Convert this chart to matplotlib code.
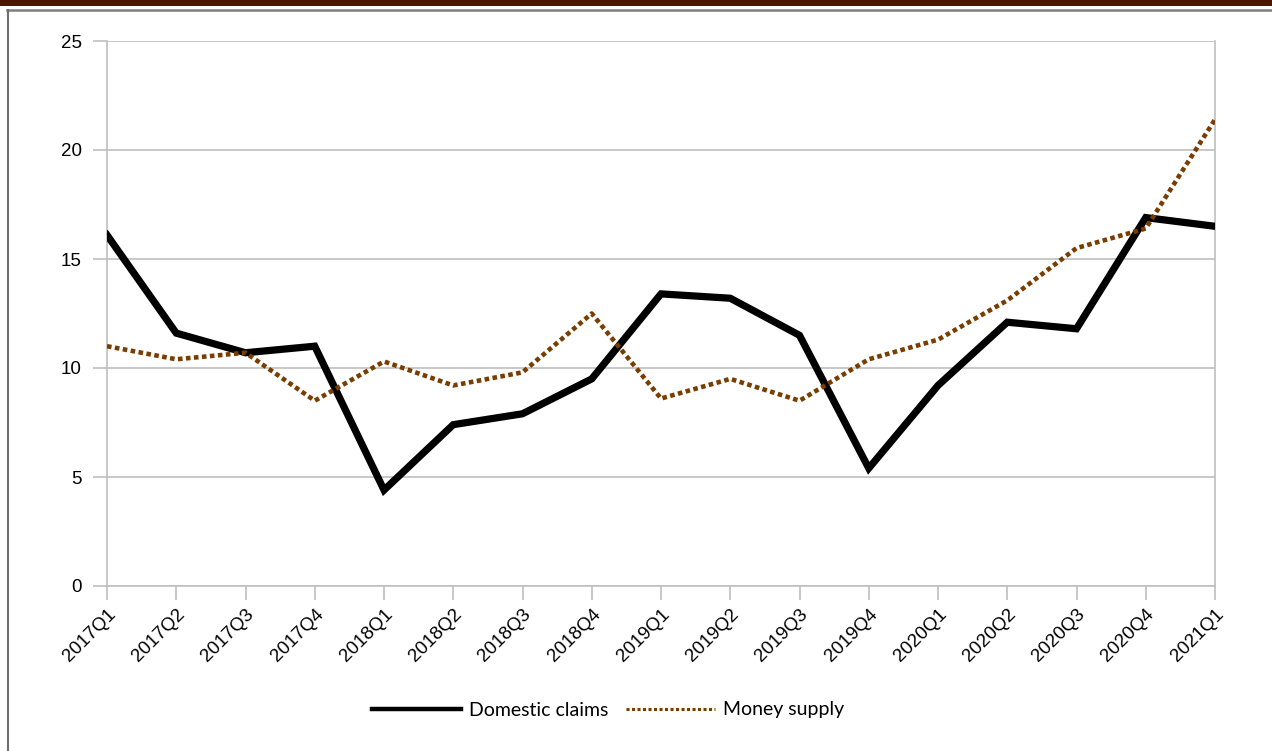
import matplotlib.pyplot as plt
import matplotlib.lines as mlines

# quarterly data, percent
quarters = ["2017Q1", "2017Q2", "2017Q3", "2017Q4",
            "2018Q1", "2018Q2", "2018Q3", "2018Q4",
            "2019Q1", "2019Q2", "2019Q3", "2019Q4",
            "2020Q1", "2020Q2", "2020Q3", "2020Q4", "2021Q1"]
domestic_claims = [16.1, 11.6, 10.7, 11.0, 4.4, 7.4, 7.9, 9.5,
                   13.4, 13.2, 11.5, 5.4, 9.2, 12.1, 11.8, 16.9, 16.5]
money_supply = [11.0, 10.4, 10.7, 8.5, 10.3, 9.2, 9.8, 12.5,
                8.6, 9.5, 8.5, 10.4, 11.3, 13.1, 15.5, 16.4, 21.4]
yticks = [0, 5, 10, 15, 20, 25]

plt.rcParams['font.family'] = ['Liberation Sans', 'DejaVu Sans']

fig = plt.figure(figsize=(12.72, 7.51), dpi=100)
ax = fig.add_axes([107/1272, 1-586/751, (1215-107)/1272, (586-41)/751])

grey = "#bfbfbf"
brown = "#7a3d00"

x = range(len(quarters))
ax.plot(x, domestic_claims, color="black", lw=5.2, solid_joinstyle="miter",
        label="Domestic claims", zorder=3)
ax.plot(x, money_supply, color=brown, lw=3.3, linestyle=(0, (1, 0.75)),
        dash_capstyle="butt", label="Money supply", zorder=4)

ax.set_xlim(0, len(quarters)-1)
ax.set_ylim(0, 25)
ax.set_yticks(yticks)
ax.set_xticks(list(x))
ax.set_xticklabels(quarters, rotation=45, ha="right", rotation_mode="anchor")
ax.yaxis.grid(True, color=grey, lw=1.2)
ax.set_axisbelow(True)
for s in ["left", "bottom", "right"]:
    ax.spines[s].set_color(grey)
    ax.spines[s].set_linewidth(1.2)
ax.spines["top"].set_visible(False)
ax.tick_params(axis="both", colors=grey, length=10, width=1.2, labelsize=13.5,
               labelcolor="black")
ax.tick_params(axis="y", pad=8)
ax.tick_params(axis="x", pad=4)

# legend below the axis
h1 = mlines.Line2D([], [], color="black", lw=3.2)
h2 = mlines.Line2D([], [], color=brown, lw=2.2, linestyle=(0, (1, 0.8)))
fig.legend([h1, h2], ["Domestic claims", "Money supply"],
           loc="center", bbox_to_anchor=(608/1272, 1-710/751), ncol=2,
           frameon=False, handlelength=4.6, handletextpad=0.4,
           columnspacing=0.9, prop={"family": "Lato", "size": 14})

# page frame: dark band on top, grey rule and left border
fig.add_artist(plt.Rectangle((0, 1-6/751), 1, 6/751, transform=fig.transFigure,
                             color="#4a1700", lw=0))
fig.add_artist(mlines.Line2D([7/1272, 1], [1-10/751, 1-10/751],
                             transform=fig.transFigure, color="#7f7f7f", lw=1.8))
fig.add_artist(mlines.Line2D([8/1272, 8/1272], [0, 1-10/751],
                             transform=fig.transFigure, color="#6f6f6f", lw=1.5))

fig.savefig("out.png", dpi=100)
